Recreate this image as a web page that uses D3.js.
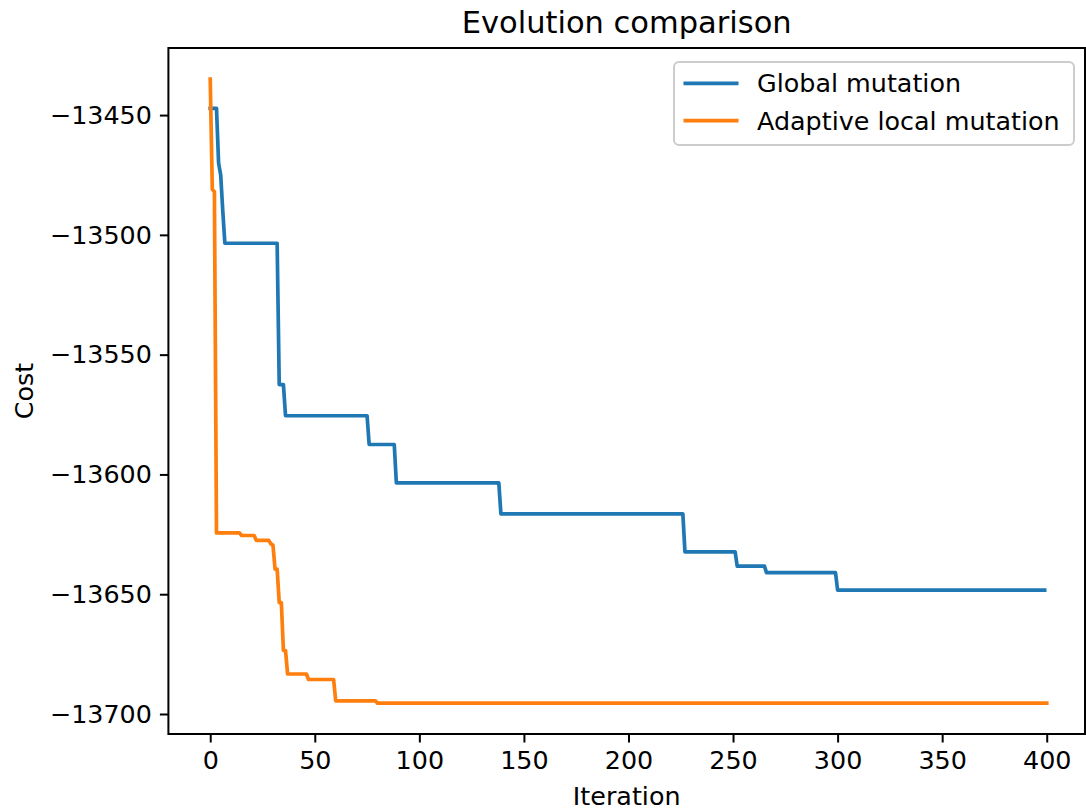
<!DOCTYPE html>
<html>
<head>
<meta charset="utf-8">
<script src="https://cdn.jsdelivr.net/npm/d3@7"></script>
<style>
  html, body { margin: 0; padding: 0; background: #ffffff; }
  svg { display: block; font-family: "DejaVu Sans", sans-serif; }
</style>
</head>
<body>
<svg id="chart" width="1086" height="811"></svg>
<script>
// ---- data (vertices: [iteration, cost]) ----
const globalIter = [0, 3, 4, 5, 6, 7, 32, 33, 35, 36, 75, 76, 88, 89, 138, 139, 226, 227, 251, 252, 265, 266, 299, 300, 399];
const globalCost = [-13447.2, -13447.2, -13470, -13475, -13490, -13503.5, -13503.5, -13562.5, -13562.5, -13575.5, -13575.5, -13587.5, -13587.5, -13603.5, -13603.5, -13616.5, -13616.5, -13632.3, -13632.3, -13638.3, -13638.3, -13641, -13641, -13648.3, -13648.3];
const localIter = [0, 1, 2, 3, 14, 15, 21, 22, 28, 29, 30, 31, 32, 33, 34, 35, 36, 37, 46, 47, 59, 60, 79, 80, 400];
const localCost = [-13435, -13481, -13482, -13624.4, -13624.4, -13625.5, -13625.5, -13627.5, -13627.5, -13629, -13629.5, -13639.5, -13639.5, -13653.5, -13653.5, -13673.5, -13673.5, -13683.3, -13683.3, -13685.6, -13685.6, -13694.5, -13694.5, -13695.5, -13695.5];
const seriesNames = ["Global mutation", "Adaptive local mutation"];
const seriesColors = ["#1f77b4", "#ff7f0e"];
const xTicks = [0, 50, 100, 150, 200, 250, 300, 350, 400];
const yTicks = [-13450, -13500, -13550, -13600, -13650, -13700];
const titleText = "Evolution comparison";
const xLabel = "Iteration";
const yLabel = "Cost";

// ---- layout ----
const L = 168.4, R = 1085, T = 48, B = 734;
const svg = d3.select("#chart");

const x = d3.scaleLinear().domain([-20, 418.3]).range([L, R]);
const y = d3.scaleLinear().domain([-13708.35, -13422.0]).range([B, T]);

const fmt = d => (d < 0 ? "\u2212" : "") + Math.abs(d);
const fontPx = 25.4;

// lines
const series = [
  globalIter.map((it, i) => [it, globalCost[i]]),
  localIter.map((it, i) => [it, localCost[i]])
];
const line = d3.line().x(d => x(d[0])).y(d => y(d[1]));
series.forEach((s, i) => {
  svg.append("path").datum(s)
    .attr("d", line)
    .attr("fill", "none")
    .attr("stroke", seriesColors[i])
    .attr("stroke-width", 3.7)
    .attr("stroke-linejoin", "round")
    .attr("stroke-linecap", "square");
});

// axes
const xAxis = d3.axisBottom(x).tickValues(xTicks).tickFormat(d3.format("d")).tickSize(8.5).tickPadding(8);
const yAxis = d3.axisLeft(y).tickValues(yTicks).tickFormat(fmt).tickSize(8.5).tickPadding(8);

const gx = svg.append("g").attr("transform", `translate(0,${B})`).call(xAxis);
const gy = svg.append("g").attr("transform", `translate(${L},0)`).call(yAxis);
[gx, gy].forEach(g => {
  g.select(".domain").remove();
  g.selectAll(".tick line").attr("stroke", "#000").attr("stroke-width", 2);
  g.selectAll(".tick text").attr("fill", "#000").style("font-size", fontPx + "px").style("font-family", "DejaVu Sans");
});

// frame
svg.append("rect").attr("x", L).attr("y", T).attr("width", R - L).attr("height", B - T)
  .attr("fill", "none").attr("stroke", "#000").attr("stroke-width", 2);

// title & labels
svg.append("text").attr("x", (L + R) / 2).attr("y", 33).attr("text-anchor", "middle")
  .style("font-size", "30.5px").attr("fill", "#000").text(titleText);
svg.append("text").attr("x", (L + R) / 2).attr("y", 805).attr("text-anchor", "middle")
  .style("font-size", fontPx + "px").attr("fill", "#000").text(xLabel);
svg.append("text").attr("transform", `translate(33,${(T + B) / 2}) rotate(-90)`).attr("text-anchor", "middle")
  .style("font-size", fontPx + "px").attr("fill", "#000").text(yLabel);

// legend
const lg = svg.append("g");
lg.append("rect").attr("x", 674).attr("y", 62).attr("width", 400).attr("height", 83).attr("rx", 5)
  .attr("fill", "#fff").attr("fill-opacity", 0.8).attr("stroke", "#cccccc").attr("stroke-width", 2);
seriesNames.forEach((name, i) => {
  const yy = 83.3 + i * 37.4;
  lg.append("line").attr("x1", 683.5).attr("x2", 738.5).attr("y1", yy).attr("y2", yy)
    .attr("stroke", seriesColors[i]).attr("stroke-width", 3.7);
  lg.append("text").attr("x", 757).attr("y", yy).attr("dy", "0.36em")
    .style("font-size", fontPx + "px").attr("fill", "#000").text(name);
});
</script>
</body>
</html>
